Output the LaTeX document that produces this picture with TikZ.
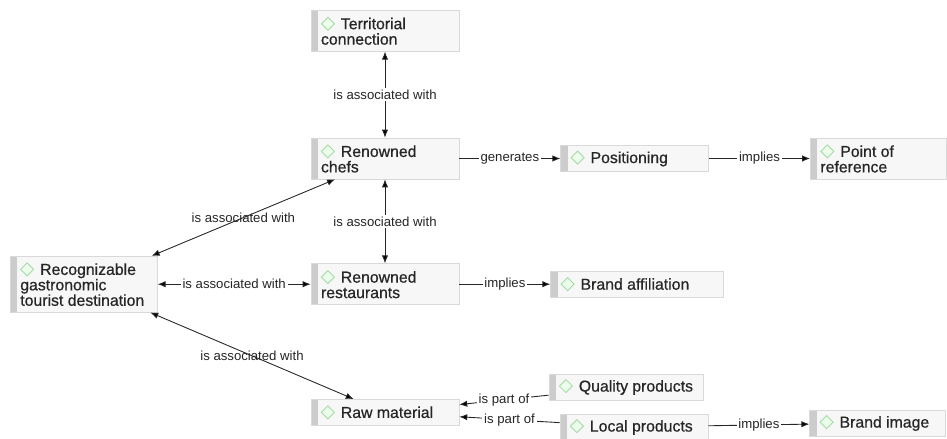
\documentclass[tikz,border=0pt]{standalone}
\usepackage{fontspec}
\setmainfont{Liberation Sans}
\newfontfamily\boxfont{Liberation Sans}[FakeBold=0.6]
\usepackage{xcolor}
\usepackage{tikz}
\usetikzlibrary{arrows.meta,positioning,calc}

\newcommand{\ico}{\tikz[baseline=0pt]\draw[draw=green!40!gray!50, fill=green!8, line width=0.5pt] (0,0.11) -- (0.13,0.24) -- (0.26,0.11) -- (0.13,-0.02) -- cycle;}

\begin{document}
\begin{tikzpicture}[
    >={Latex[length=4.5pt,width=3.6pt]},
    box/.style={rectangle, draw=gray!30, fill=gray!6, align=flush left, inner xsep=0.2cm, inner ysep=1pt, text width=2.56cm, minimum height=0.82cm, text=black!85, font=\boxfont\fontsize{9}{8.8}\selectfont,
        path picture={\fill[gray!40] (path picture bounding box.south west) rectangle ([xshift=0.14cm]path picture bounding box.north west);}},
    one/.style={box, minimum height=0.52cm},
    lbl/.style={font=\fontsize{7.5}{9}\selectfont, fill=white, inner sep=1pt, text=black!85},
    link/.style={draw=black!85, line width=0.5pt}
]
    \useasboundingbox (0,0) rectangle (18.94,8.78);

    \node [box] (chefs) at (7.70,5.61) {\ico\hspace{0.12cm}Renowned\\chefs};
    \node [box, above=1.72cm of chefs] (terr) {\ico\hspace{0.12cm}Territorial\\connection};
    \node [box, below=1.68cm of chefs] (rest) {\ico\hspace{0.12cm}Renowned\\restaurants};
    \node [box, minimum height=1.12cm, text width=2.54cm, left=3.06cm of rest] (dest) {\ico\hspace{0.12cm}Recognizable\\gastronomic\\tourist destination};
    \node [one, right=2.02cm of chefs] (pos) {\ico\hspace{0.12cm}Positioning};
    \node [box, text width=2.32cm, right=2.02cm of pos] (ref) {\ico\hspace{0.12cm}Point of\\reference};
    \node [one, text width=3.06cm, right=1.82cm of rest] (aff) {\ico\hspace{0.12cm}Brand affiliation};
    \node [one, below=1.88cm of rest] (raw) {\ico\hspace{0.12cm}Raw material};
    \node [one, text width=2.68cm] (qual) at (12.52,1.04) {\ico\hspace{0.12cm}Quality products};
    \node [one] (local) at (12.68,0.24) {\ico\hspace{0.12cm}Local products};
    \node [one, text width=2.32cm, right=2.02cm of local, yshift=0.08cm] (img) {\ico\hspace{0.12cm}Brand image};

    \draw [link, <->] (terr) -- node [lbl] {is associated with} (chefs);
    \draw [link, <->] (chefs) -- node [lbl] {is associated with} (rest);
    \draw [link, ->] (chefs) -- node [lbl] {generates} (pos);
    \draw [link, ->] (pos) -- node [lbl] {implies} (ref);
    \draw [link, <->] (dest) -- node [lbl, fill=none] {is associated with} (chefs);
    \draw [link, <->] (dest) -- node [lbl] {is associated with} (rest);
    \draw [link, <->] (dest) -- node [lbl, fill=none] {is associated with} (raw);
    \draw [link, ->] (rest) -- node [lbl] {implies} (aff);
    \draw [link, ->] (qual) -- node [lbl] {is part of} (raw);
    \draw [link, ->] (local) -- node [lbl] {is part of} (raw);
    \draw [link, ->] (local) -- node [lbl] {implies} (img);
\end{tikzpicture}
\end{document}
